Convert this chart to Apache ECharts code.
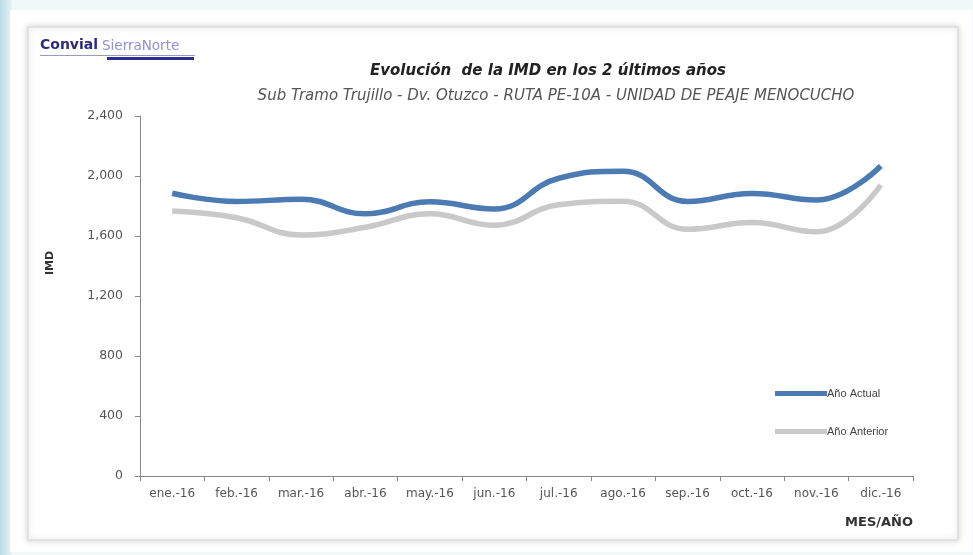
<!DOCTYPE html>
<html><head><meta charset="utf-8">
<script src="https://cdn.jsdelivr.net/npm/echarts@6/dist/echarts.min.js"></script>
<style>html,body{margin:0;padding:0;background:#f1f8f9;}#c{width:973px;height:555px;}</style>
</head><body><div id="c"></div>
<script>
const categories = ['ene.-16','feb.-16','mar.-16','abr.-16','may.-16','jun.-16','jul.-16','ago.-16','sep.-16','oct.-16','nov.-16','dic.-16'];
const actual = [1885, 1830, 1845, 1748, 1828, 1780, 1985, 2032, 1830, 1884, 1840, 2067];
const anterior = [1767, 1722, 1607, 1658, 1748, 1672, 1808, 1832, 1645, 1690, 1628, 1940];
const yTicks = [0, 400, 800, 1200, 1600, 2000, 2400];
const seriesNames = ['Año Actual', 'Año Anterior'];

const chart = echarts.init(document.getElementById('c'));
chart.setOption({
  animation: false,
  backgroundColor: 'transparent',
  graphic: [
    {type:'rect', z:-10, shape:{x:0,y:0,width:12,height:555}, style:{fill:new echarts.graphic.LinearGradient(0,0,1,0,[{offset:0,color:'#b9dbe6'},{offset:1,color:'#e8f3f6'}])}},
    {type:'rect', z:-9, shape:{x:10,y:10,width:962,height:542}, style:{fill:'#ffffff'}},
    {type:'rect', z:-8, shape:{x:28,y:27,width:930,height:513}, style:{fill:'#ffffff', stroke:'#e2e2e2', lineWidth:2, shadowBlur:6, shadowColor:'rgba(0,0,0,0.15)'}},
    {type:'text', left:40, top:38, style:{text:'Convial', font:'bold 14px "DejaVu Sans"', fill:'#2b2b7e'}},
    {type:'text', left:102, top:39, style:{text:'SierraNorte', font:'13.5px "DejaVu Sans"', fill:'#9090dc'}},
    {type:'rect', shape:{x:40,y:55,width:155,height:1}, style:{fill:'#9a9ab8'}},
    {type:'rect', shape:{x:107,y:57,width:87,height:3}, style:{fill:'#2b2b9a'}},
    {type:'text', x:50, y:263, rotation:Math.PI/2, style:{text:'IMD', font:'bold 11px "DejaVu Sans"', fill:'#333', align:'center', verticalAlign:'middle'}}
  ],
  title: [
    {text:'Evolución  de la IMD en los 2 últimos años', left:543, top:59, textAlign:'center',
     textStyle:{fontSize:15, fontWeight:'bold', fontStyle:'italic', color:'#222', fontFamily:'DejaVu Sans'}},
    {text:'Sub Tramo Trujillo - Dv. Otuzco - RUTA PE-10A - UNIDAD DE PEAJE MENOCUCHO', left:551, top:84, textAlign:'center',
     textStyle:{fontSize:15, fontWeight:'normal', fontStyle:'italic', color:'#555', fontFamily:'DejaVu Sans'}}
  ],
  legend: {
    orient:'vertical', left:770, top:383, itemGap:27, itemWidth:52, itemHeight:5, icon:'rect',
    data: seriesNames,
    textStyle:{fontSize:11, color:'#444', fontFamily:'Liberation Sans', padding:[0,0,0,-5]}
  },
  grid: {left:140, right:60, top:116, bottom:79},
  xAxis: {
    type:'category', data:categories, boundaryGap:true,
    name:'MES/AÑO', nameLocation:'end', nameGap:0,
    nameTextStyle:{fontSize:13, fontWeight:'bold', color:'#333', fontFamily:'DejaVu Sans', align:'right', verticalAlign:'top', padding:[40,0,0,0]},
    axisLine:{lineStyle:{color:'#888', width:1}},
    axisTick:{show:true, interval:0, length:5, lineStyle:{color:'#888'}},
    axisLabel:{interval:0, fontSize:12, color:'#555', margin:12, fontFamily:'DejaVu Sans'},
    splitLine:{show:false}
  },
  yAxis: {
    type:'value', min:yTicks[0], max:yTicks[yTicks.length-1], interval:400,
    axisLine:{show:true, lineStyle:{color:'#888'}},
    axisTick:{show:true, length:5, lineStyle:{color:'#888'}},
    axisLabel:{fontSize:12.5, color:'#555', margin:17, fontFamily:'DejaVu Sans',
      formatter: v => v.toLocaleString('en-US')},
    splitLine:{show:false}
  },
  series: [
    {name:seriesNames[0], type:'line', data:actual, smooth:0.45, symbol:'none',
     lineStyle:{width:5.5, color:'#4c7ab3'}, itemStyle:{color:'#4c7ab3'}, z:3},
    {name:seriesNames[1], type:'line', data:anterior, smooth:0.45, symbol:'none',
     lineStyle:{width:5.5, color:'#c9c9c9'}, itemStyle:{color:'#c9c9c9'}, z:2}
  ]
});
</script></body></html>
